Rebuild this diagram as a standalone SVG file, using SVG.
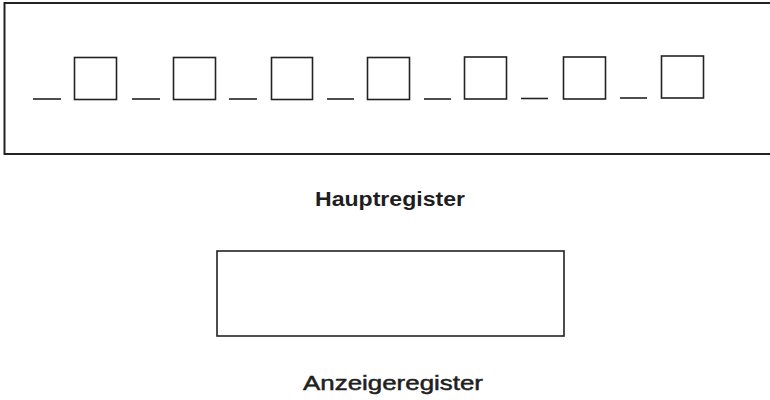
<svg xmlns="http://www.w3.org/2000/svg" width="770" height="400" viewBox="0 0 770 400">
<style>
.frame{fill:none;stroke:#222;stroke-width:2}
.cell{fill:none;stroke:#222;stroke-width:1.6}
.blank{stroke:#222;stroke-width:1.6}
.lbl{font-family:"Liberation Sans",Arial,sans-serif;fill:#1e1e1e}
</style>
<rect width="770" height="400" fill="#fff"/>
<g id="hauptregister">
<rect class="frame" x="4.5" y="3" width="780" height="151"/>
<g id="cells">
<line class="blank" x1="33" y1="99" x2="61" y2="99"/>
<rect class="cell" x="74.5" y="57.5" width="42" height="42"/>
<line class="blank" x1="132" y1="99" x2="160" y2="99"/>
<rect class="cell" x="173.5" y="57.5" width="42" height="42"/>
<line class="blank" x1="229" y1="99" x2="257" y2="99"/>
<rect class="cell" x="271.5" y="57.5" width="41" height="42"/>
<line class="blank" x1="327" y1="99" x2="354" y2="99"/>
<rect class="cell" x="367.5" y="57.5" width="42" height="42"/>
<line class="blank" x1="424" y1="99" x2="451" y2="99"/>
<rect class="cell" x="464.5" y="57" width="42" height="42"/>
<line class="blank" x1="521" y1="98.5" x2="548" y2="98.5"/>
<rect class="cell" x="563.5" y="57" width="42" height="42"/>
<line class="blank" x1="620" y1="98" x2="647" y2="98"/>
<rect class="cell" x="661.5" y="56" width="42" height="42"/>
</g>
<text class="lbl" x="315" y="206" font-size="19.5" font-weight="bold" textLength="150" lengthAdjust="spacingAndGlyphs">Hauptregister</text>
</g>
<g id="anzeigeregister">
<rect class="frame" x="217" y="251" width="347" height="85" style="stroke-width:1.6"/>
<text class="lbl" x="303" y="390" font-size="21" stroke="#1e1e1e" stroke-width="0.5" textLength="180" lengthAdjust="spacingAndGlyphs">Anzeigeregister</text>
</g>
<g id="connectors"/>
</svg>
